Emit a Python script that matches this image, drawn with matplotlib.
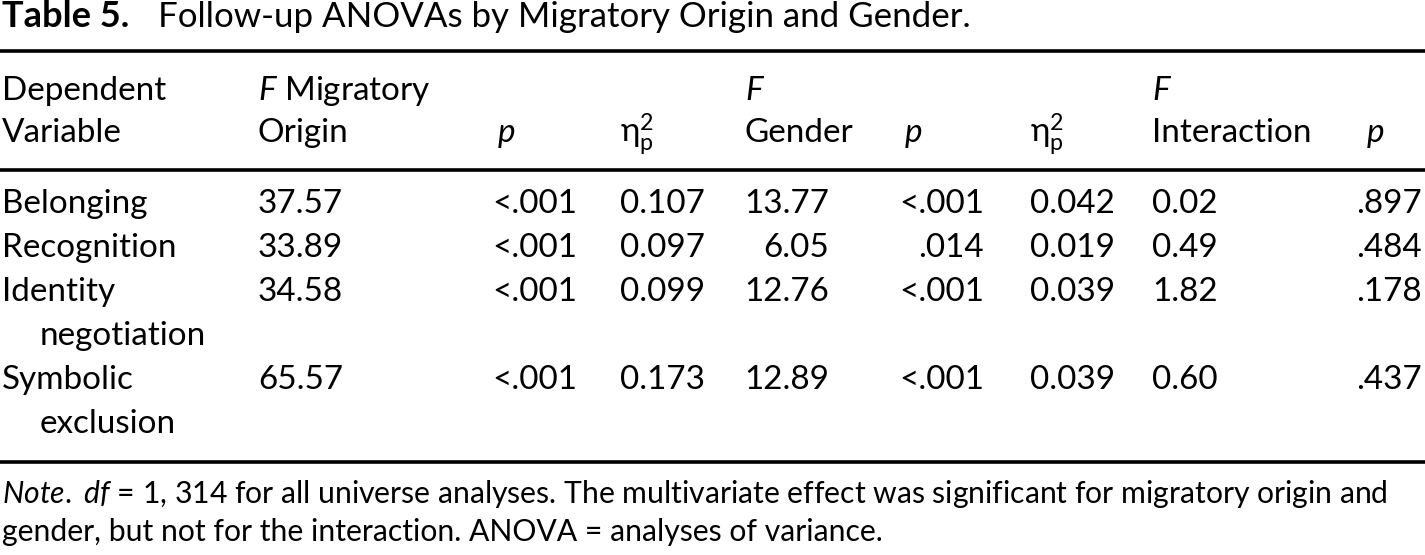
import matplotlib
matplotlib.use("Agg")
import matplotlib.pyplot as plt

plt.rcParams['font.family'] = ['Lato', 'DejaVu Sans']
plt.rcParams['mathtext.fontset'] = 'custom'
plt.rcParams['mathtext.rm'] = 'Lato'
plt.rcParams['mathtext.it'] = 'Lato:italic'
plt.rcParams['mathtext.bf'] = 'Lato:bold'
plt.rcParams['mathtext.fallback'] = 'stixsans'

# ---------------- data ----------------
title_bold = "Table 5."
title_text = "Follow-up ANOVAs by Migratory Origin and Gender."

header_line1 = ["Dependent", r"$\mathit{F}$ Migratory", "", "", r"$\mathit{F}$", "", "", r"$\mathit{F}$", ""]
header_line2 = ["Variable", "Origin", r"$\mathit{p}$", r"$\mathrm{\eta}^{2}_{\mathrm{p}}$",
                "Gender", r"$\mathit{p}$", r"$\mathrm{\eta}^{2}_{\mathrm{p}}$", "Interaction", r"$\mathit{p}$"]

dependent = [["Belonging"], ["Recognition"], ["Identity", "negotiation"], ["Symbolic", "exclusion"]]
f_origin = ["37.57", "33.89", "34.58", "65.57"]
p_origin = ["<.001", "<.001", "<.001", "<.001"]
eta_origin = ["0.107", "0.097", "0.099", "0.173"]
f_gender = ["13.77", "6.05", "12.76", "12.89"]
p_gender = ["<.001", ".014", "<.001", "<.001"]
eta_gender = ["0.042", "0.019", "0.039", "0.039"]
f_inter = ["0.02", "0.49", "1.82", "0.60"]
p_inter = [".897", ".484", ".178", ".437"]

note_line1 = (r"$\mathit{Note.}$ $\mathit{df}$ = 1, 314 for all universe analyses. "
              r"The multivariate effect was significant for migratory origin and")
note_line2 = "gender, but not for the interaction. ANOVA = analyses of variance."

# ---------------- layout ----------------
W, H = 1425, 555
fig = plt.figure(figsize=(W / 100, H / 100), dpi=100)
fig.patch.set_facecolor('white')
ax = fig.add_axes([0, 0, 1, 1])
ax.set_xlim(0, W)
ax.set_ylim(H, 0)
ax.axis('off')
renderer = fig.canvas.get_renderer()


def fit_size(s, target, **kw):
    t = ax.text(0, 0, s, fontsize=20, **kw)
    w = t.get_window_extent(renderer).width
    t.remove()
    return 20 * target / w


body = fit_size("Dependent", 165)
title_size = fit_size(title_text, 813)
title_bold_size = fit_size(title_bold, 128, fontweight='bold')
note_size = fit_size(note_line1, 1385)

# title
ax.text(2, 27, title_bold, fontsize=title_bold_size, fontweight='bold', va='baseline', ha='left')
ax.text(158, 27, title_text, fontsize=title_size, va='baseline', ha='left')

# rules
rule_lw = 2.6
for yr in (51, 170, 462):
    ax.plot([0, W], [yr, yr], color='black', lw=rule_lw, solid_capstyle='butt')

# column geometry: (anchor x, alignment for values)
col_left = [2, 258, 497, 620, 745, 904, 1030, 1152, 1366]
val_anchor = [(2, 'left'), (258, 'left'), (577, 'right'), (620, 'left'), (829, 'right'),
              (984, 'right'), (1030, 'left'), (1152, 'left'), (1422, 'right')]

for i in range(9):
    if header_line1[i]:
        ax.text(col_left[i], 100, header_line1[i], fontsize=body, va='baseline', ha='left')
    ax.text(col_left[i], 142, header_line2[i], fontsize=body, va='baseline', ha='left')

columns = [None, f_origin, p_origin, eta_origin, f_gender, p_gender, eta_gender, f_inter, p_inter]

line_gap = 44
y = 213
for r, dep in enumerate(dependent):
    for k, part in enumerate(dep):
        ax.text(2 if k == 0 else 40, y + k * line_gap, part, fontsize=body, va='baseline', ha='left')
    for c in range(1, 9):
        xa, al = val_anchor[c]
        ax.text(xa, y, columns[c][r], fontsize=body, va='baseline', ha=al)
    y += line_gap * len(dep)

# note
ax.text(2, 503, note_line1, fontsize=note_size, va='baseline', ha='left')
ax.text(2, 541, note_line2, fontsize=note_size, va='baseline', ha='left')

fig.savefig("out.png", dpi=100, facecolor='white')
